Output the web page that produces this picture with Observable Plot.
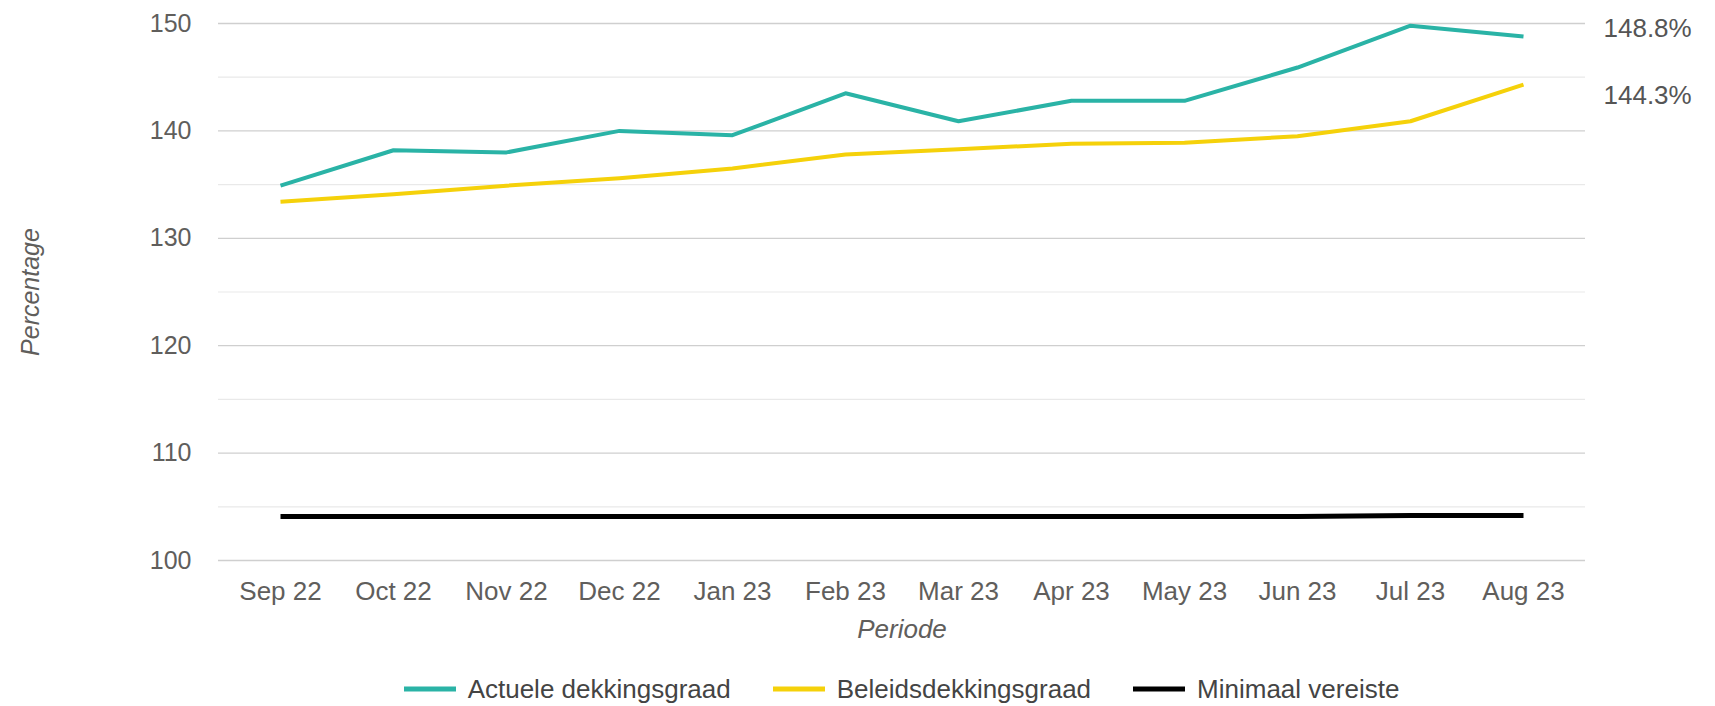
<!DOCTYPE html>
<html>
<head>
<meta charset="utf-8">
<script src="https://cdn.jsdelivr.net/npm/d3@7"></script>
<script src="https://cdn.jsdelivr.net/npm/@observablehq/plot@0.6"></script>
<style>
  html, body { margin: 0; padding: 0; background: #fff; }
  body { width: 1715px; font-family: "Liberation Sans", Arial, sans-serif; }
  #chart svg { display: block; }
  #legend {
    margin-left: 218px; width: 1367px; padding-top: 14px;
    display: flex; justify-content: center; align-items: center;
    font-size: 26px; color: #444; line-height: 30px;
  }
  .item { display: flex; align-items: center; margin: 0 21px; }
  .item svg { margin-right: 12px; }
</style>
</head>
<body>
<div id="chart"></div>
<div id="legend"></div>
<script>
const periods = ["Sep 22","Oct 22","Nov 22","Dec 22","Jan 23","Feb 23","Mar 23","Apr 23","May 23","Jun 23","Jul 23","Aug 23"];
const actuele  = [134.9, 138.2, 138.0, 140.0, 139.6, 143.5, 140.9, 142.8, 142.8, 145.9, 149.8, 148.8];
const beleids  = [133.4, 134.1, 134.9, 135.6, 136.5, 137.8, 138.3, 138.8, 138.9, 139.5, 140.9, 144.3];
const minimaal = [104.1, 104.1, 104.1, 104.1, 104.1, 104.1, 104.1, 104.1, 104.1, 104.1, 104.2, 104.2];
const seriesNames  = ["Actuele dekkingsgraad", "Beleidsdekkingsgraad", "Minimaal vereiste"];
const seriesColors = ["#2AB3A6", "#F5D10A", "#000000"];
const seriesWidths = [4, 4, 5];
const yMajorTicks = [100, 110, 120, 130, 140, 150];
const yMinorTicks = [105, 115, 125, 135, 145];
const endLabels = ["148.8%", "144.3%"];

const seriesValues = [actuele, beleids, minimaal];
const rows = [];
seriesNames.forEach((name, s) => {
  periods.forEach((p, i) => rows.push({series: name, period: p, value: seriesValues[s][i]}));
});
const last = periods.length - 1;
const endRows = [
  {period: periods[last], value: actuele[last], label: endLabels[0]},
  {period: periods[last], value: beleids[last], label: endLabels[1]}
];

const chart = Plot.plot({
  width: 1715,
  height: 660,
  marginTop: 23,
  marginBottom: 100,
  marginLeft: 218,
  marginRight: 130,
  style: {fontFamily: "'Liberation Sans', Arial, sans-serif", fontSize: "25px", color: "#605E5C", background: "#fff"},
  x: {type: "point", domain: periods, padding: 0.5},
  y: {domain: [100, 150]},
  color: {domain: seriesNames, range: seriesColors},
  marks: [
    Plot.ruleY(yMinorTicks, {stroke: "#e9e9e9", strokeWidth: 1.2}),
    Plot.ruleY(yMajorTicks, {stroke: "#cfcfcf", strokeWidth: 1.3}),
    Plot.axisY({ticks: yMajorTicks, tickSize: 0, tickPadding: 27, label: null, fontSize: 25, fill: "#605E5C"}),
    Plot.axisX({tickSize: 0, tickPadding: 21, label: null, fontSize: 26, fill: "#605E5C"}),
    ...seriesNames.map((name, s) =>
      Plot.line(rows.filter(d => d.series === name), {
        x: "period", y: "value", stroke: seriesColors[s], strokeWidth: seriesWidths[s],
        strokeLinecap: "butt"
      })
    ),
    Plot.text([endRows[0]], {x: "period", y: "value", text: "label", dx: 80, dy: -8, textAnchor: "start", fontSize: 26, fill: "#555"}),
    Plot.text([endRows[1]], {x: "period", y: "value", text: "label", dx: 80, dy: 11, textAnchor: "start", fontSize: 26, fill: "#555"}),
    Plot.text(["Periode"], {frameAnchor: "bottom", dy: 77, text: d => d, fontSize: 26, fontStyle: "italic", fill: "#605E5C"}),
    Plot.text(["Percentage"], {frameAnchor: "left", textAnchor: "middle", dx: -188, rotate: -90, text: d => d, fontSize: 25, fontStyle: "italic", fill: "#605E5C"})
  ]
});
document.getElementById("chart").appendChild(chart);

const legend = document.getElementById("legend");
seriesNames.forEach((name, s) => {
  const item = document.createElement("div");
  item.className = "item";
  item.innerHTML = `<svg width="52" height="10"><line x1="0" x2="52" y1="5" y2="5" stroke="${seriesColors[s]}" stroke-width="5"/></svg><span>${name}</span>`;
  legend.appendChild(item);
});
</script>
</body>
</html>
